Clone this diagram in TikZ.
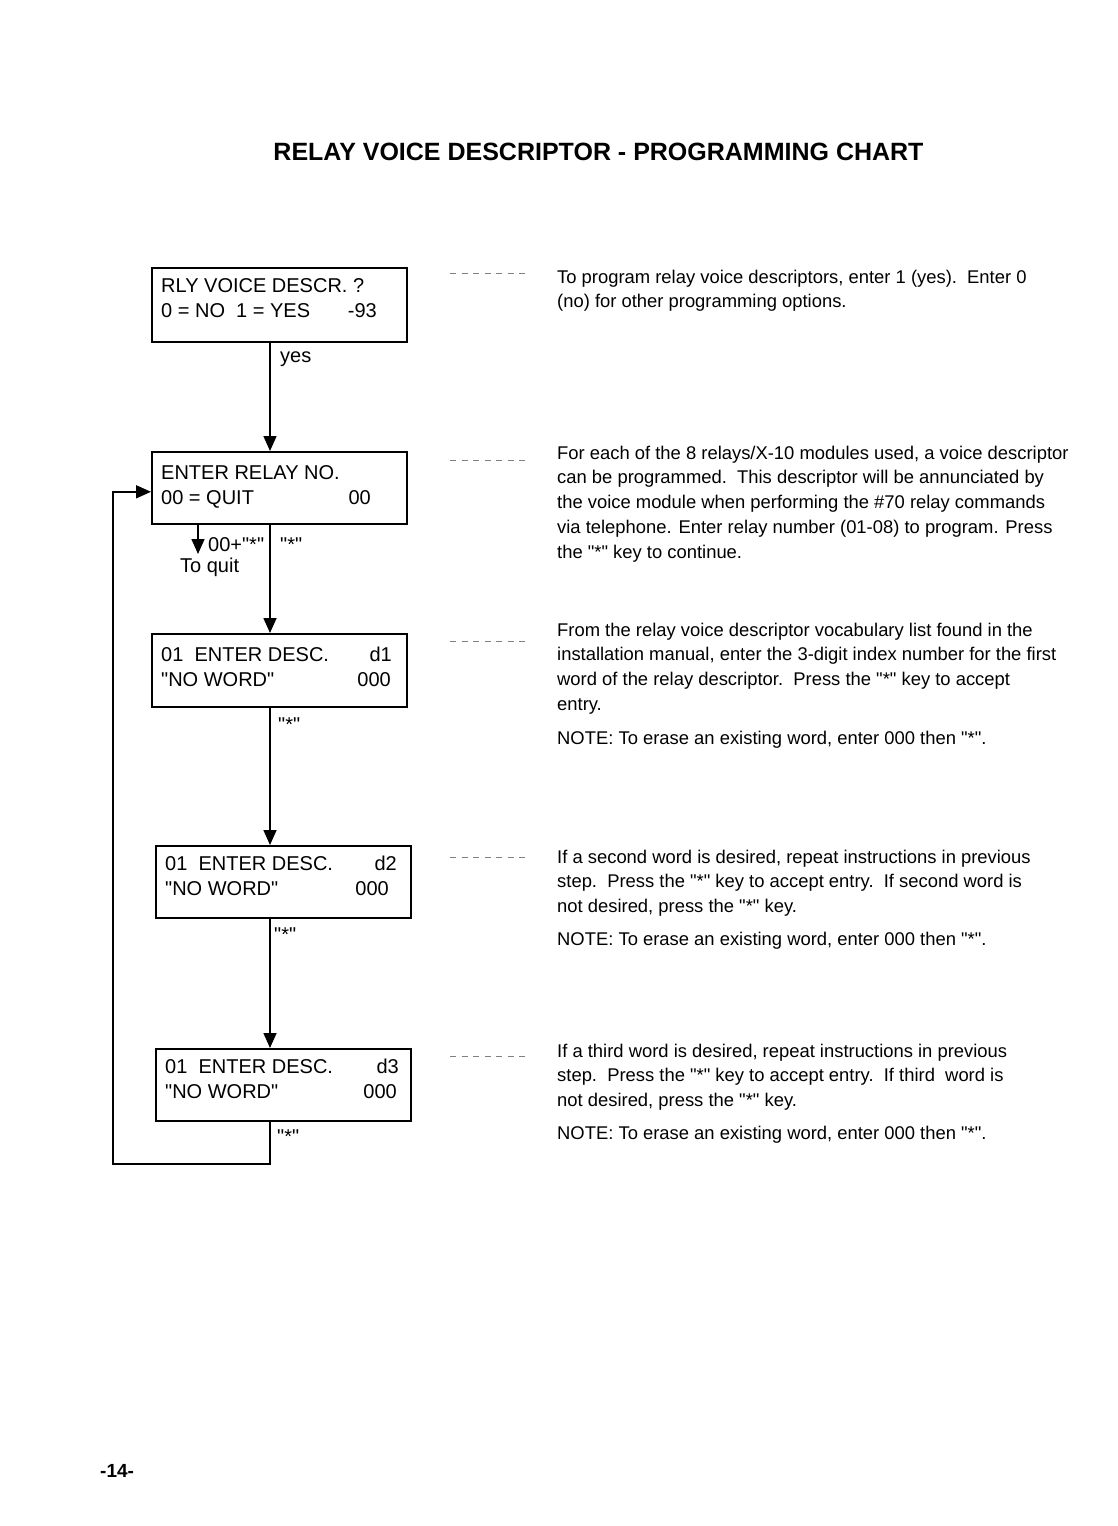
\documentclass[tikz,border=0pt]{standalone}
\usepackage{fontspec}
\setmainfont{Liberation Sans}[Ligatures=TeXOff]
\usetikzlibrary{arrows.meta, positioning}

\begin{document}
\begin{tikzpicture}[
        x=1pt, y=-1pt,
        screen/.style={rectangle, draw, line width=1.6pt, minimum width=255pt, minimum height=72pt, anchor=north west, inner sep=0pt},
        disp/.style={font=\fontsize{20}{24}\selectfont, inner sep=0pt, anchor=base west},
        dispr/.style={disp, anchor=base east},
        flow/.style={draw, line width=1.6pt, -{Triangle[width=13pt, length=15pt]}},
        leader/.style={draw, black!50, line width=0.7pt, dash pattern=on 6pt off 5.5pt},
        note/.style={font=\fontsize{18.4}{24.8}\selectfont, align=left, inner sep=0pt, anchor=north west}
    ]

    % page
    \fill[white] (0,0) rectangle (1118,1526);
    \useasboundingbox (0,0) rectangle (1118,1526);
    \node[font=\fontsize{25}{30}\selectfont\bfseries, inner sep=0pt, anchor=base] (title) at (598.5,160) {RELAY VOICE DESCRIPTOR - PROGRAMMING CHART};
    \node[font=\fontsize{19}{24}\selectfont\bfseries, inner sep=0pt, anchor=base west] (page) at (100,1477) {-14-};

    % Screens
    \node[screen, minimum height=74pt] (b1) at (151,267) {};
    \node[disp] (b1a) at (161,292) {RLY VOICE DESCR. ?};
    \node[disp] (b1b) at (161,317) {0 = NO\ \ 1 = YES};
    \node[dispr] (b1c) at (377,317) {-93};

    \node[screen] (b2) at (151,451) {};
    \node[disp] (b2a) at (161,479) {ENTER RELAY NO.};
    \node[disp] (b2b) at (161,504) {00 = QUIT};
    \node[dispr] (b2c) at (371,504) {00};

    \node[screen, minimum height=73pt] (b3) at (151,633) {};
    \node[disp] (b3a) at (161,661) {01\ \ ENTER DESC.};
    \node[dispr] (b3b) at (392,661) {d1};
    \node[disp] (b3c) at (161,686) {"NO WORD"};
    \node[dispr] (b3d) at (391,686) {000};

    \node[screen] (b4) at (155,845) {};
    \node[disp] (b4a) at (165,870) {01\ \ ENTER DESC.};
    \node[dispr] (b4b) at (397,870) {d2};
    \node[disp] (b4c) at (165,895) {"NO WORD"};
    \node[dispr] (b4d) at (389,895) {000};

    \node[screen] (b5) at (155,1048) {};
    \node[disp] (b5a) at (165,1073) {01\ \ ENTER DESC.};
    \node[dispr] (b5b) at (399,1073) {d3};
    \node[disp] (b5c) at (165,1098) {"NO WORD"};
    \node[dispr] (b5d) at (397,1098) {000};

    % Keys
    \node[disp] (yes) at (280,362) {yes};
    \node[disp] (k2) at (280,551) {"*"};
    \node[disp] (k3) at (278,731) {"*"};
    \node[disp] (k4) at (274,941) {"*"};
    \node[disp] (k5) at (277,1143) {"*"};
    \node[disp] (quitkey) at (208,551) {00+"*"};
    \node[disp] (quit) at (180,572) {To quit};

    % Edges
    \coordinate (spine) at (270,0);
    \coordinate (quitend) at (198,554);
    \coordinate (loop) at (113,1164);
    \path[flow] (b1.south -| spine) -- (b2.north -| spine);
    \path[flow] (b2.south -| spine) -- (b3.north -| spine);
    \path[flow] (b3.south -| spine) -- (b4.north -| spine);
    \path[flow] (b4.south -| spine) -- (b5.north -| spine);
    \path[flow] (b2.south -| quitend) -- (quitend);
    \path[flow] (b5.south -| spine) |- (loop) |- ([yshift=-4pt]b2.west);

    % Notes
    \node[note] (n1) at (557,265.6) {\strut To program relay voice descriptors, enter 1 (yes).\ \ Enter 0\\(no) for other programming options.};
    \node[note] (n2) at (557,441.6) {\strut For each of the 8 relays/X-10 modules used, a voice descriptor\\can be programmed.\ \ This descriptor will be annunciated by\\the voice module when performing the \#70 relay commands\\via telephone. Enter relay number (01-08) to program. Press\\the "*" key to continue.};
    \node[note] (n3) at (557,618.6) {\strut From the relay voice descriptor vocabulary list found in the\\installation manual, enter the 3-digit index number for the first\\word of the relay descriptor.\ \ Press the "*" key to accept\\entry.\\[9pt]NOTE: To erase an existing word, enter 000 then "*".};
    \node[note] (n4) at (557,845.6) {\strut If a second word is desired, repeat instructions in previous\\step.\ \ Press the "*" key to accept entry.\ \ If second word is\\not desired, press the "*" key.\\[8pt]NOTE: To erase an existing word, enter 000 then "*".};
    \node[note] (n5) at (557,1039.6) {\strut If a third word is desired, repeat instructions in previous\\step.\ \ Press the "*" key to accept entry.\ \ If third\ \ word is\\not desired, press the "*" key.\\[8pt]NOTE: To erase an existing word, enter 000 then "*".};

    % Leaders
    \foreach \ly in {273,460,641,857,1056}
        \draw[leader] (450,\ly) -- ++(80,0);

\end{tikzpicture}
\end{document}
